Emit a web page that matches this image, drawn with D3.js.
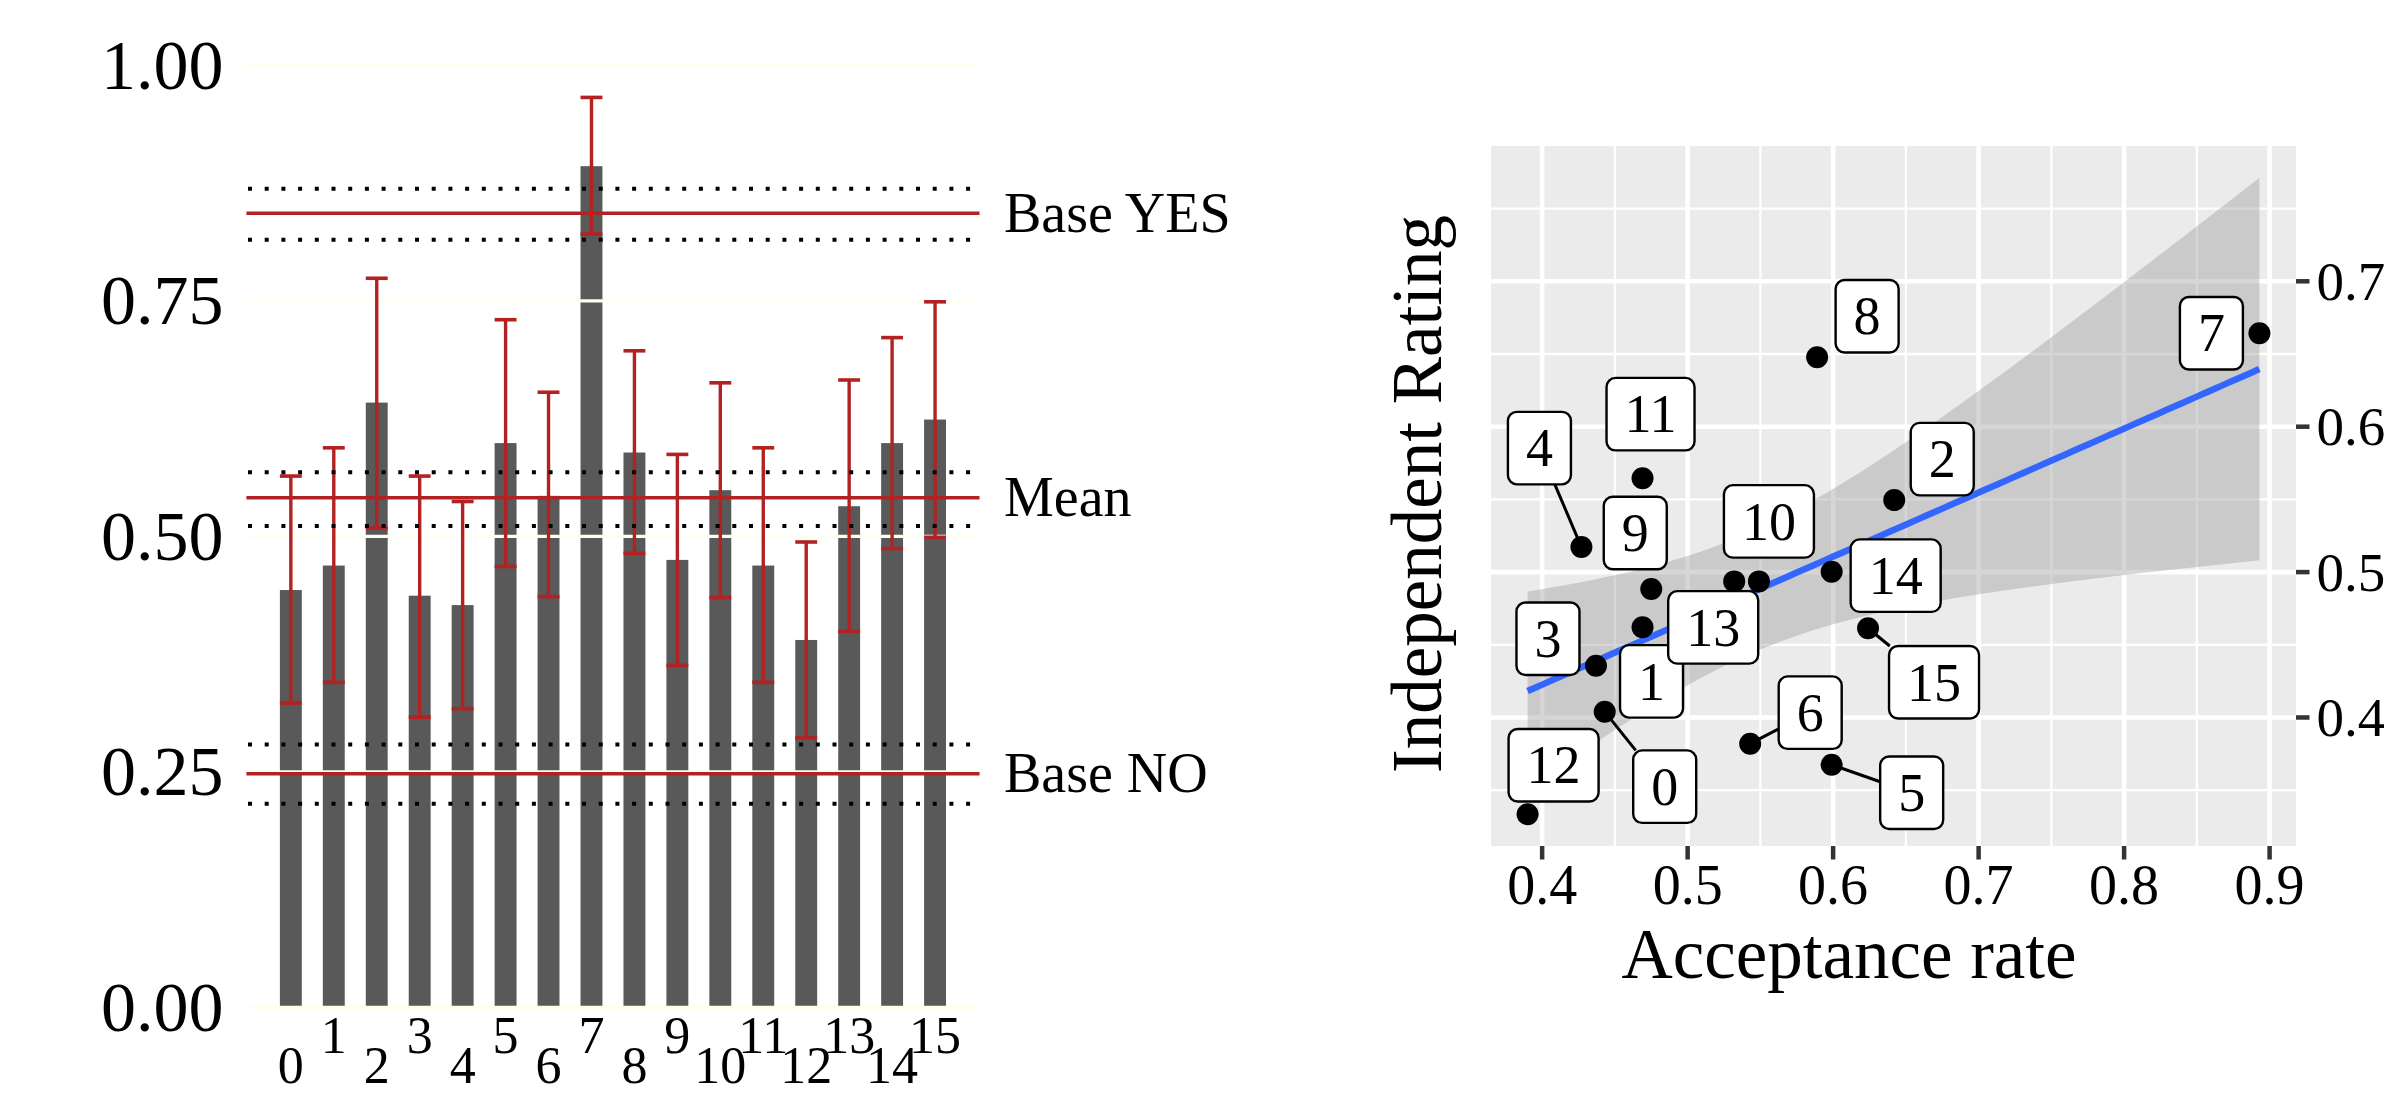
<!DOCTYPE html>
<html>
<head>
<meta charset="utf-8">
<script src="https://cdn.jsdelivr.net/npm/d3@7"></script>
<style>
body { margin: 0; background: #fff; }
text { font-family: "Liberation Serif", "Times New Roman", serif; }
</style>
</head>
<body>
<svg id="chart" width="2384" height="1095"></svg>
<script>
// ---- data ----
var groups = ["0","1","2","3","4","5","6","7","8","9","10","11","12","13","14","15"];
var acceptRate = [0.443, 0.469, 0.642, 0.437, 0.427, 0.599, 0.543, 0.893, 0.589, 0.475, 0.549, 0.469, 0.390, 0.532, 0.599, 0.624];
var errLow  = [0.323, 0.345, 0.509, 0.308, 0.317, 0.468, 0.436, 0.821, 0.482, 0.363, 0.435, 0.345, 0.286, 0.399, 0.487, 0.499];
var errHigh = [0.564, 0.594, 0.774, 0.564, 0.537, 0.730, 0.653, 0.966, 0.697, 0.587, 0.663, 0.594, 0.494, 0.666, 0.711, 0.749];
var rating  = [0.404, 0.462, 0.5495, 0.4356, 0.5172, 0.3675, 0.382, 0.6643, 0.6478, 0.4884, 0.4936, 0.5646, 0.3335, 0.4936, 0.5003, 0.4614];

var refNames = ["Base YES", "Mean", "Base NO"];
var refValues = [0.843, 0.541, 0.248];
var refLow = [0.815, 0.511, 0.216];
var refHigh = [0.869, 0.568, 0.279];

var leftTicks = [0, 0.25, 0.5, 0.75, 1];
var rightXTicks = [0.4, 0.5, 0.6, 0.7, 0.8, 0.9];
var rightXMinor = [0.45, 0.55, 0.65, 0.75, 0.85];
var rightYTicks = [0.4, 0.5, 0.6, 0.7];
var rightYMinor = [0.35, 0.45, 0.55, 0.65, 0.75];

// label placement (repel result), pixels from the point, and which get a leader
var labelNudge = [[60,75],[9,54],[48,-41],[-48,-27],[-42,-99],[80,28],[60,-31],[-48,0],
                  [50,-41],[-16,-56],[10,-60],[8,-64],[26,-49],[-21,46],[64,4],[66,54]];
var leader = [1,0,0,0,1,1,1,0,0,0,0,0,0,0,0,1];

var svg = d3.select("#chart");
var red = "#b22222";

// ================= left: bar chart =================
var lx = d3.scalePoint().domain(groups).range([246.4, 979.5]).padding(1.035);
var ly = d3.scaleLinear().domain([0, 1]).range([1007.3, 65.4]);
var barW = lx.step() * 0.51;

var gl = svg.append("g");

gl.selectAll(".bar").data(acceptRate).enter().append("rect")
    .attr("class", "bar")
    .attr("x", function(d, i){ return lx(groups[i]) - barW / 2; })
    .attr("y", function(d){ return ly(d); })
    .attr("width", barW)
    .attr("height", function(d){ return ly(0) - ly(d); })
    .attr("fill", "#595959");

// grid sits over the bars (panel on top)
gl.selectAll(".grid").data(leftTicks).enter().append("line")
    .attr("class", "grid")
    .attr("x1", 246.4).attr("x2", 979.5)
    .attr("y1", function(d){ return ly(d); })
    .attr("y2", function(d){ return ly(d); })
    .attr("stroke", "#fffff0")
    .attr("stroke-width", 3.2);

// error bars
var eb = gl.selectAll(".err").data(groups).enter().append("g").attr("class", "err");
eb.append("line")
    .attr("x1", function(d){ return lx(d); }).attr("x2", function(d){ return lx(d); })
    .attr("y1", function(d, i){ return ly(errLow[i]); })
    .attr("y2", function(d, i){ return ly(errHigh[i]); })
    .attr("stroke", red).attr("stroke-width", 3.4);
[errLow, errHigh].forEach(function(arr){
    eb.append("line")
        .attr("x1", function(d){ return lx(d) - barW / 2; })
        .attr("x2", function(d){ return lx(d) + barW / 2; })
        .attr("y1", function(d, i){ return ly(arr[i]); })
        .attr("y2", function(d, i){ return ly(arr[i]); })
        .attr("stroke", red).attr("stroke-width", 3.6);
});

// reference lines with dotted bands
refValues.forEach(function(v, k){
    [refLow[k], refHigh[k]].forEach(function(b){
        gl.append("line")
            .attr("x1", 248).attr("x2", 979.5)
            .attr("y1", ly(b)).attr("y2", ly(b))
            .attr("stroke", "#000").attr("stroke-width", 4)
            .attr("stroke-dasharray", "4,12.7");
    });
    gl.append("line")
        .attr("x1", 246.4).attr("x2", 979.5)
        .attr("y1", ly(v)).attr("y2", ly(v))
        .attr("stroke", red).attr("stroke-width", 3.6);
    gl.append("text")
        .attr("x", 1004).attr("y", ly(v) + 18.5)
        .attr("font-size", 56)
        .text(refNames[k]);
});

// axes text
gl.selectAll(".ytick").data(leftTicks).enter().append("text")
    .attr("x", 223.5)
    .attr("y", function(d){ return ly(d) + 23.5; })
    .attr("text-anchor", "end")
    .attr("font-size", 70)
    .text(d3.format(".2f"));

// dodged x labels, two rows (second row kept inside the frame)
gl.selectAll(".xtick").data(groups).enter().append("text")
    .attr("x", function(d){ return lx(d); })
    .attr("y", function(d, i){ return i % 2 ? 1053 : 1083; })
    .attr("text-anchor", "middle")
    .attr("font-size", 52)
    .text(function(d){ return d; });

// ================= right: scatter =================
var n = acceptRate.length;
var mx = d3.mean(acceptRate), my = d3.mean(rating);
var sxx = d3.sum(acceptRate, function(v){ return (v - mx) * (v - mx); });
var sxy = d3.sum(acceptRate, function(v, i){ return (v - mx) * (rating[i] - my); });
var slope = sxy / sxx, icpt = my - slope * mx;
var sse = d3.sum(acceptRate, function(v, i){ var r = rating[i] - (icpt + slope * v); return r * r; });
var sres = Math.sqrt(sse / (n - 2));
var tq = 2.1448; // t(0.975, 14)

var xExt = d3.extent(acceptRate);
var band = d3.range(80).map(function(k){
    var x = xExt[0] + (xExt[1] - xExt[0]) * k / 79;
    var fit = icpt + slope * x;
    var se = sres * Math.sqrt(1 / n + (x - mx) * (x - mx) / sxx);
    return {x: x, fit: fit, lo: fit - tq * se, hi: fit + tq * se};
});

var yMin = Math.min(d3.min(rating), d3.min(band, function(d){ return d.lo; }));
var yMax = Math.max(d3.max(rating), d3.max(band, function(d){ return d.hi; }));
var xPad = (xExt[1] - xExt[0]) * 0.05, yPad = (yMax - yMin) * 0.05;

var P = {left: 1491, right: 2296, top: 146, bottom: 846};
var rx = d3.scaleLinear().domain([xExt[0] - xPad, xExt[1] + xPad]).range([P.left, P.right]);
var ry = d3.scaleLinear().domain([yMin - yPad, yMax + yPad]).range([P.bottom, P.top]);

var gr = svg.append("g");
gr.append("rect")
    .attr("x", P.left).attr("y", P.top)
    .attr("width", P.right - P.left).attr("height", P.bottom - P.top)
    .attr("fill", "#ebebeb");

function vgrid(vals, w){
    gr.selectAll(null).data(vals).enter().append("line")
        .attr("x1", function(d){ return rx(d); }).attr("x2", function(d){ return rx(d); })
        .attr("y1", P.top).attr("y2", P.bottom)
        .attr("stroke", "#fff").attr("stroke-width", w);
}
function hgrid(vals, w){
    gr.selectAll(null).data(vals).enter().append("line")
        .attr("y1", function(d){ return ry(d); }).attr("y2", function(d){ return ry(d); })
        .attr("x1", P.left).attr("x2", P.right)
        .attr("stroke", "#fff").attr("stroke-width", w);
}
vgrid(rightXMinor, 2.3); hgrid(rightYMinor, 2.3);
vgrid(rightXTicks, 4.6); hgrid(rightYTicks, 4.6);

gr.append("path")
    .datum(band)
    .attr("d", d3.area().x(function(d){ return rx(d.x); })
        .y0(function(d){ return ry(d.lo); }).y1(function(d){ return ry(d.hi); }))
    .attr("fill", "#999999").attr("fill-opacity", 0.4);

gr.append("path")
    .datum(band)
    .attr("d", d3.line().x(function(d){ return rx(d.x); }).y(function(d){ return ry(d.fit); }))
    .attr("fill", "none").attr("stroke", "#3366ff").attr("stroke-width", 6.5);

gr.selectAll(".pt").data(acceptRate).enter().append("circle")
    .attr("cx", function(d){ return rx(d); })
    .attr("cy", function(d, i){ return ry(rating[i]); })
    .attr("r", 11)
    .attr("fill", "#000");

// labels with leader segments
var segG = gr.append("g"), boxG = gr.append("g");
groups.forEach(function(lab, i){
    var px = rx(acceptRate[i]), py = ry(rating[i]);
    var cx = px + labelNudge[i][0], cy = py + labelNudge[i][1];
    var t = boxG.append("text")
        .attr("x", cx).attr("y", cy + 18.3)
        .attr("text-anchor", "middle")
        .attr("font-size", 54)
        .text(lab);
    var w = t.node().getComputedTextLength() + 36, h = 72.5;
    boxG.insert("rect", "text")
        .attr("x", cx - w / 2).attr("y", cy - h / 2)
        .attr("width", w).attr("height", h)
        .attr("rx", 9)
        .attr("fill", "#fff").attr("stroke", "#000").attr("stroke-width", 2.4);
    if (!leader[i]) return;
    // end where the line toward the box centre meets the box edge
    var dx = cx - px, dy = cy - py;
    var ax = Math.abs(dx), ay = Math.abs(dy), tt;
    if (ax > w / 2 && ay > h / 2) tt = Math.max((ax - w / 2) / ax, (ay - h / 2) / ay);
    else if (ax > w / 2) tt = (ax - w / 2) / ax;
    else tt = (ay - h / 2) / ay;
    segG.append("line")
        .attr("x1", px).attr("y1", py)
        .attr("x2", px + dx * tt).attr("y2", py + dy * tt)
        .attr("stroke", "#000").attr("stroke-width", 3);
});

// axes
gr.selectAll(".xt").data(rightXTicks).enter().append("line")
    .attr("x1", function(d){ return rx(d); }).attr("x2", function(d){ return rx(d); })
    .attr("y1", P.bottom).attr("y2", P.bottom + 13.5)
    .attr("stroke", "#333").attr("stroke-width", 4.5);
gr.selectAll(".xl").data(rightXTicks).enter().append("text")
    .attr("x", function(d){ return rx(d); }).attr("y", 904)
    .attr("text-anchor", "middle").attr("font-size", 56)
    .text(d3.format(".1f"));

gr.selectAll(".yt").data(rightYTicks).enter().append("line")
    .attr("y1", function(d){ return ry(d); }).attr("y2", function(d){ return ry(d); })
    .attr("x1", P.right).attr("x2", P.right + 13.5)
    .attr("stroke", "#333").attr("stroke-width", 4.5);
gr.selectAll(".yl").data(rightYTicks).enter().append("text")
    .attr("x", 2316.5).attr("y", function(d){ return ry(d) + 18.6; })
    .attr("font-size", 55)
    .text(d3.format(".1f"));

gr.append("text")
    .attr("x", 1849).attr("y", 978)
    .attr("text-anchor", "middle").attr("font-size", 71)
    .text("Acceptance rate");
gr.append("text")
    .attr("transform", "translate(1441,494) rotate(-90)")
    .attr("text-anchor", "middle").attr("font-size", 71)
    .text("Independent Rating");
</script>
</body>
</html>
